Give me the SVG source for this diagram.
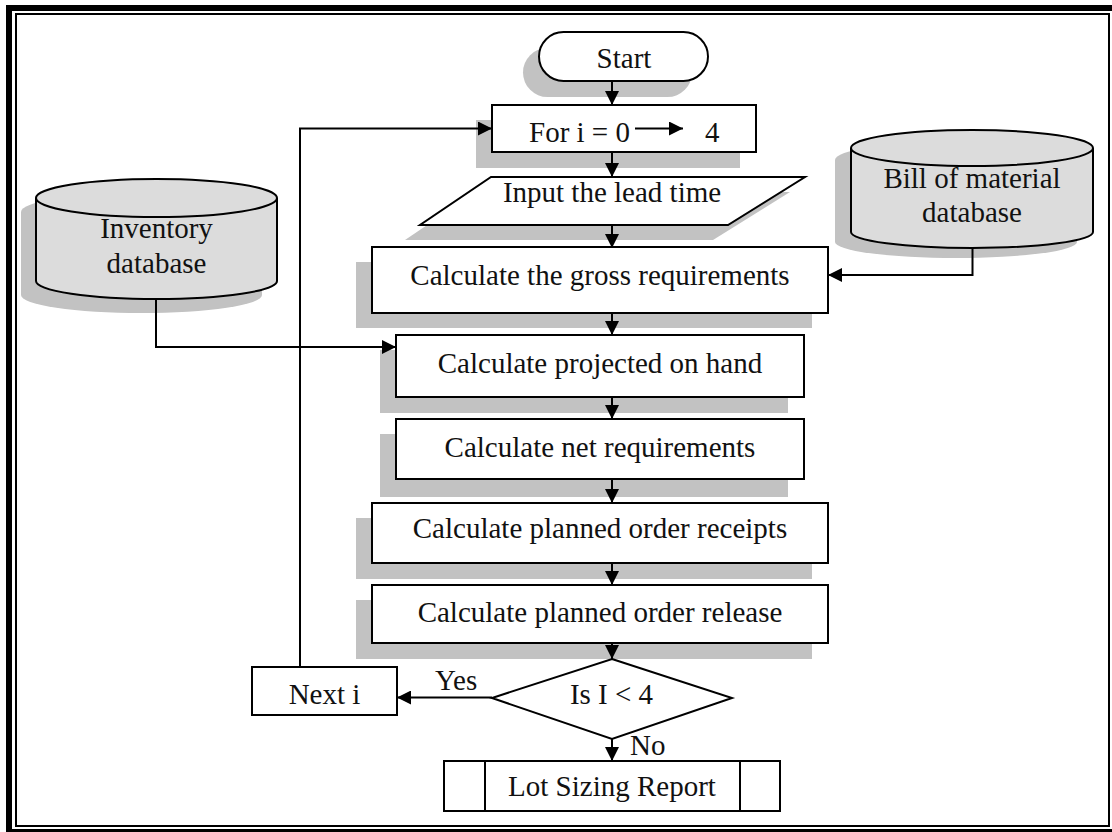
<svg xmlns="http://www.w3.org/2000/svg" width="1112" height="832" viewBox="0 0 1112 832">
<style>
.sh{fill:#c2c2c2;stroke:none}
.bx{fill:#ffffff;stroke:#000;stroke-width:2}
.db{fill:#dcdcdc;stroke:#000;stroke-width:2}
.t{font-family:"Liberation Serif","Times New Roman",serif;font-size:29px;fill:#111;text-anchor:middle}
.c{fill:none;stroke:#000;stroke-width:2}
</style>
<defs>
<marker id="ah" markerUnits="userSpaceOnUse" markerWidth="15" markerHeight="14" refX="14" refY="7" orient="auto">
<path d="M0,0 L14,7 L0,14 z" fill="#000"/>
</marker>
</defs>
<rect width="1112" height="832" fill="#fff"/>
<g id="frame">
<rect x="6" y="5" width="6" height="827" fill="#000"/>
<rect x="6" y="5" width="1106" height="6" fill="#000"/>
<rect x="6" y="829" width="1106" height="3" fill="#000"/>
<rect x="16" y="14" width="1093" height="812" fill="none" stroke="#000" stroke-width="2"/>
</g>
<g id="start">
<rect class="sh" x="523" y="48" width="169" height="49" rx="24.5"/>
<rect class="bx" x="539" y="32" width="169" height="49" rx="24.5"/>
<text class="t" x="624" y="68">Start</text>
</g>
<g id="for-loop">
<rect class="sh" x="476" y="120" width="264" height="48"/>
<rect class="bx" x="492" y="105" width="264" height="47"/>
<text class="t" x="529" y="141.5" style="text-anchor:start">For i = 0</text>
<line x1="635" y1="128.5" x2="683" y2="128.5" stroke="#000" stroke-width="2" marker-end="url(#ah)"/>
<text class="t" x="705" y="141.5" style="text-anchor:start">4</text>
</g>
<g id="input">
<polygon class="sh" points="476,192 790,192 713,240 405,240"/>
<polygon class="bx" points="491,177 805,177 728,225 420,225"/>
<text class="t" x="612" y="201.5">Input the lead time</text>
</g>
<g id="inventory-db">
<path class="sh" d="M21,212 A120.5,19 0 0 1 262,212 L262,295 A120.5,18 0 0 1 21,295 Z"/>
<path class="db" d="M36,198 A120.5,19 0 0 1 277,198 L277,281 A120.5,18 0 0 1 36,281 Z"/>
<path class="c" d="M36,198 A120.5,19 0 0 0 277,198"/>
<text class="t" x="156.5" y="238">Inventory</text>
<text class="t" x="156.5" y="272.5">database</text>
</g>
<g id="bom-db">
<path class="sh" d="M835,160 A121,18 0 0 1 1077,160 L1077,242 A121,16 0 0 1 835,242 Z"/>
<path class="db" d="M851,148 A121,18 0 0 1 1093,148 L1093,232 A121,16 0 0 1 851,232 Z"/>
<path class="c" d="M851,148 A121,18 0 0 0 1093,148"/>
<text class="t" x="972" y="188">Bill of material</text>
<text class="t" x="972" y="222">database</text>
</g>
<g id="gross">
<rect class="sh" x="356" y="262" width="456" height="66"/>
<rect class="bx" x="372" y="247" width="456" height="66"/>
<text class="t" x="600" y="285">Calculate the gross requirements</text>
</g>
<g id="projected">
<rect class="sh" x="380" y="350" width="408" height="63"/>
<rect class="bx" x="396" y="335" width="408" height="62"/>
<text class="t" x="600" y="373">Calculate projected on hand</text>
</g>
<g id="net">
<rect class="sh" x="380" y="434" width="408" height="63"/>
<rect class="bx" x="396" y="419" width="408" height="60"/>
<text class="t" x="600" y="457">Calculate net requirements</text>
</g>
<g id="receipts">
<rect class="sh" x="356" y="518" width="456" height="61"/>
<rect class="bx" x="372" y="503" width="456" height="60"/>
<text class="t" x="600" y="538">Calculate planned order receipts</text>
</g>
<g id="release">
<rect class="sh" x="356" y="600" width="456" height="59"/>
<rect class="bx" x="372" y="585" width="456" height="58"/>
<text class="t" x="600" y="621.5">Calculate planned order release</text>
</g>
<g id="decision">
<polygon class="bx" points="612,659 732,698 612,739 492,698"/>
<text class="t" x="611.5" y="704">Is I &lt; 4</text>
<text class="t" x="435" y="690" style="text-anchor:start">Yes</text>
<text class="t" x="630" y="755" style="text-anchor:start">No</text>
</g>
<g id="next-i">
<rect class="bx" x="252" y="667" width="145" height="48"/>
<text class="t" x="324.5" y="704">Next i</text>
</g>
<g id="report">
<rect class="bx" x="444" y="761" width="336" height="50"/>
<line class="c" x1="485" y1="761" x2="485" y2="811"/>
<line class="c" x1="740" y1="761" x2="740" y2="811"/>
<text class="t" x="612" y="796">Lot Sizing Report</text>
</g>
<g id="connectors">
<line class="c" x1="612" y1="81" x2="612" y2="105" marker-end="url(#ah)"/>
<line class="c" x1="612" y1="153" x2="612" y2="177" marker-end="url(#ah)"/>
<line class="c" x1="612" y1="225" x2="612" y2="248" marker-end="url(#ah)"/>
<line class="c" x1="612" y1="313" x2="612" y2="335" marker-end="url(#ah)"/>
<line class="c" x1="612" y1="397" x2="612" y2="419" marker-end="url(#ah)"/>
<line class="c" x1="612" y1="479" x2="612" y2="503" marker-end="url(#ah)"/>
<line class="c" x1="612" y1="563" x2="612" y2="585" marker-end="url(#ah)"/>
<line class="c" x1="612" y1="643" x2="612" y2="659" marker-end="url(#ah)"/>
<line class="c" x1="612" y1="739" x2="612" y2="761" marker-end="url(#ah)"/>
<polyline class="c" points="156,299 156,347 396,347" marker-end="url(#ah)"/>
<polyline class="c" points="972.5,248 972.5,275 828,275" marker-end="url(#ah)"/>
<line class="c" x1="492" y1="697.5" x2="397" y2="697.5" marker-end="url(#ah)"/>
<polyline class="c" points="300,667 300,128.5 492,128.5" marker-end="url(#ah)"/>
</g>
</svg>
